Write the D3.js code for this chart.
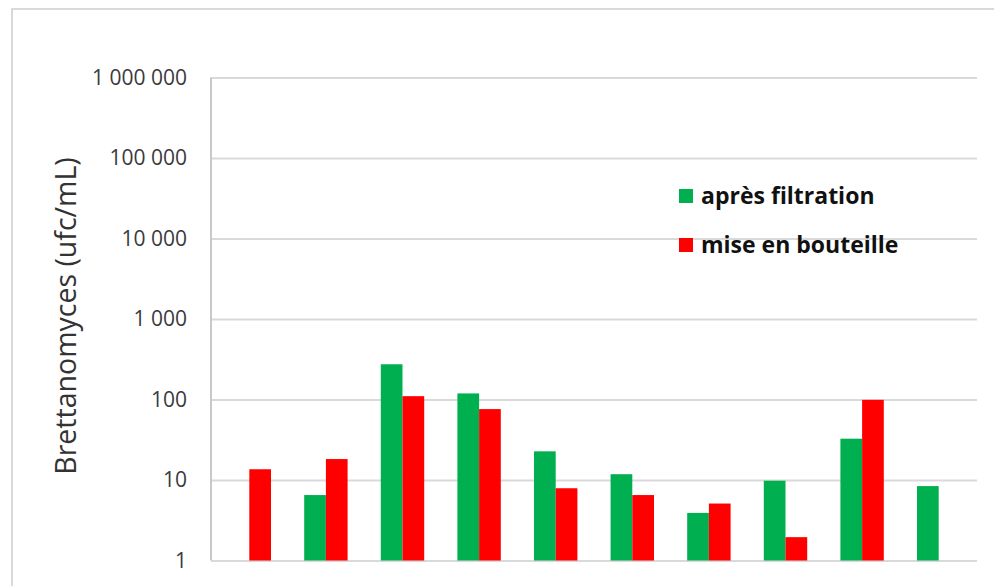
<!DOCTYPE html>
<html>
<head>
<meta charset="utf-8">
<script src="https://cdn.jsdelivr.net/npm/d3@7"></script>
<style>
  html, body { margin: 0; padding: 0; background: #fff; }
  svg { display: block; }
</style>
</head>
<body>
<svg id="chart" width="994" height="586"></svg>
<script>
// Échantillons (10 lots) — comptages de Brettanomyces en ufc/mL
const categories = [1, 2, 3, 4, 5, 6, 7, 8, 9, 10];
const seriesNames = ["après filtration", "mise en bouteille"];
const apresFiltration = [null, 6.5, 274, 119, 22.7, 11.8, 3.9, 9.8, 32.6, 8.4];
const miseEnBouteille = [13.6, 18.2, 110, 76, 7.9, 6.5, 5.1, 1.95, 99, null];
const yTicks = [1, 10, 100, 1000, 10000, 100000, 1000000];
const colors = ["#00B050", "#FF0000"];

const svg = d3.select("#chart");
const W = 994, H = 586;
const plot = { left: 211, right: 977, top: 77.5, bottom: 560.5 };

// chart frame
svg.append("rect")
  .attr("x", 12).attr("y", 9)
  .attr("width", W + 20).attr("height", H + 20)
  .attr("fill", "#fff")
  .attr("stroke", "#d9d9d9").attr("stroke-width", 2);

const x0 = d3.scaleBand()
  .domain(categories)
  .range([plot.left, plot.right])
  .paddingInner(0.4334)
  .paddingOuter(0.2167);

const x1 = d3.scaleBand()
  .domain(seriesNames)
  .range([0, x0.bandwidth()]);

const y = d3.scaleLog()
  .domain([1, 1e6])
  .range([plot.bottom, plot.top]);

const fr = d3.formatLocale({ decimal: ",", thousands: "\u00a0", grouping: [3], currency: ["", " €"] });
const fmt = fr.format(",d");

// horizontal gridlines
const grid = svg.append("g")
  .attr("transform", `translate(${plot.left},0)`)
  .call(d3.axisLeft(y).tickValues(yTicks).tickSize(-(plot.right - plot.left)).tickFormat(""));
grid.select(".domain").remove();
grid.selectAll(".tick line").attr("stroke", "#d9d9d9").attr("stroke-width", 2);

// left axis line
svg.append("line")
  .attr("x1", plot.left).attr("x2", plot.left)
  .attr("y1", y(1e6)).attr("y2", y(1))
  .attr("stroke", "#c8c8c8").attr("stroke-width", 2);

// tick labels
const yAxis = svg.append("g")
  .attr("transform", `translate(${plot.left},0)`)
  .call(d3.axisLeft(y).tickValues(yTicks).tickSize(0).tickPadding(24).tickFormat(fmt));
yAxis.select(".domain").remove();
yAxis.selectAll("text")
  .attr("font-family", "'Open Sans', sans-serif")
  .attr("font-size", 21)
  .attr("fill", "#3a3a3a");

// bars
const rows = categories.map((c, i) => ({
  cat: c,
  vals: [
    { name: seriesNames[0], v: apresFiltration[i], color: colors[0] },
    { name: seriesNames[1], v: miseEnBouteille[i], color: colors[1] }
  ]
}));

const groups = svg.append("g").selectAll("g")
  .data(rows).join("g")
  .attr("transform", d => `translate(${x0(d.cat)},0)`);

groups.selectAll("rect")
  .data(d => d.vals.filter(v => v.v != null))
  .join("rect")
  .attr("x", d => x1(d.name))
  .attr("width", x1.bandwidth())
  .attr("y", d => y(d.v))
  .attr("height", d => y(1) - y(d.v))
  .attr("fill", d => d.color);

// axis title
svg.append("text")
  .attr("transform", `translate(76,316) rotate(-90)`)
  .attr("text-anchor", "middle")
  .attr("font-family", "'Open Sans', sans-serif")
  .attr("font-size", 28.5)
  .attr("fill", "#333")
  .text("Brettanomyces (ufc/mL)");

// legend
const legend = svg.append("g").attr("transform", "translate(679,189)");
const li = legend.selectAll("g").data(seriesNames).join("g")
  .attr("transform", (d, i) => `translate(0,${i * 49})`);
li.append("rect")
  .attr("width", 14).attr("height", 14)
  .attr("fill", (d, i) => colors[i]);
li.append("text")
  .attr("x", 22).attr("y", 15)
  .attr("font-family", "'Open Sans', sans-serif")
  .attr("font-weight", "bold")
  .attr("font-size", 23)
  .attr("fill", "#111")
  .text(d => d);
</script>
</body>
</html>
